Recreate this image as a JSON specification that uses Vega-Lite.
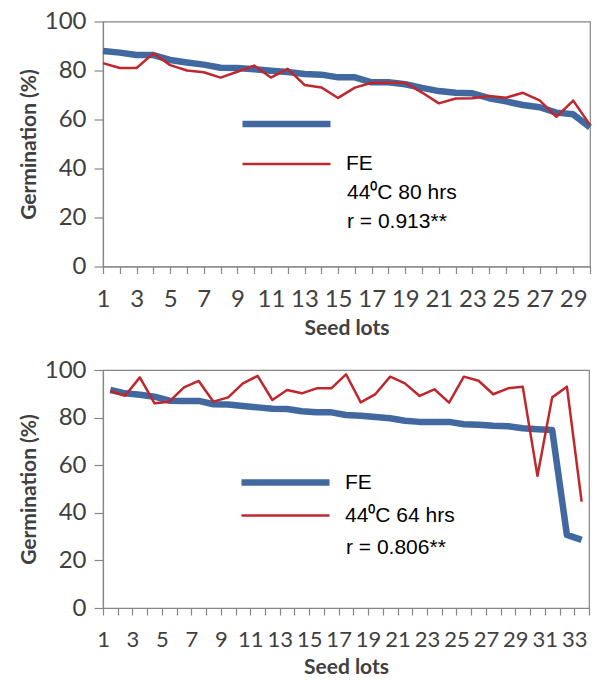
{
  "$schema": "https://vega.github.io/schema/vega-lite/v6.json",
  "autosize": {"type": "pad"},
  "padding": {"left": 17, "top": 8.5, "right": 0, "bottom": 0},
  "background": "white",
  "bounds": "flush",
  "spacing": 103.5,
  "config": {
    "view": {"stroke": "#868686", "strokeWidth": 1.2},
    "axis": {
      "grid": false,
      "domainColor": "#868686",
      "tickColor": "#868686",
      "domainWidth": 1.2,
      "tickWidth": 1.2,
      "labelFont": "Lato",
      "labelFontSize": 24,
      "labelColor": "#404040",
      "titleFont": "Lato",
      "titleFontWeight": "bold",
      "titleFontSize": 21,
      "titleColor": "#404040"
    },
    "legend": {
      "labelFont": "Liberation Sans",
      "labelFontSize": 21,
      "labelColor": "black"
    }
  },
  "vconcat": [
    {
      "width": 487,
      "height": 245,
      "data": {"values": [
        {"lot": 1, "series": "FE", "germ": 88.0}, {"lot": 2, "series": "FE", "germ": 87.3}, {"lot": 3, "series": "FE", "germ": 86.3},
        {"lot": 4, "series": "FE", "germ": 86.3}, {"lot": 5, "series": "FE", "germ": 84.3}, {"lot": 6, "series": "FE", "germ": 83.3},
        {"lot": 7, "series": "FE", "germ": 82.4}, {"lot": 8, "series": "FE", "germ": 81.1}, {"lot": 9, "series": "FE", "germ": 81.0},
        {"lot": 10, "series": "FE", "germ": 80.5}, {"lot": 11, "series": "FE", "germ": 79.9}, {"lot": 12, "series": "FE", "germ": 79.4},
        {"lot": 13, "series": "FE", "germ": 78.6}, {"lot": 14, "series": "FE", "germ": 78.3}, {"lot": 15, "series": "FE", "germ": 77.2},
        {"lot": 16, "series": "FE", "germ": 77.2}, {"lot": 17, "series": "FE", "germ": 75.2}, {"lot": 18, "series": "FE", "germ": 75.2},
        {"lot": 19, "series": "FE", "germ": 74.4}, {"lot": 20, "series": "FE", "germ": 72.9}, {"lot": 21, "series": "FE", "germ": 71.6},
        {"lot": 22, "series": "FE", "germ": 70.9}, {"lot": 23, "series": "FE", "germ": 70.7}, {"lot": 24, "series": "FE", "germ": 68.7},
        {"lot": 25, "series": "FE", "germ": 67.4}, {"lot": 26, "series": "FE", "germ": 65.9}, {"lot": 27, "series": "FE", "germ": 65.0},
        {"lot": 28, "series": "FE", "germ": 62.8}, {"lot": 29, "series": "FE", "germ": 62.1}, {"lot": 30, "series": "FE", "germ": 56.8},
        {"lot": 1, "series": "44⁰C 80 hrs", "germ": 83.0}, {"lot": 2, "series": "44⁰C 80 hrs", "germ": 81.0}, {"lot": 3, "series": "44⁰C 80 hrs", "germ": 81.0},
        {"lot": 4, "series": "44⁰C 80 hrs", "germ": 87.0}, {"lot": 5, "series": "44⁰C 80 hrs", "germ": 82.2}, {"lot": 6, "series": "44⁰C 80 hrs", "germ": 80.0},
        {"lot": 7, "series": "44⁰C 80 hrs", "germ": 79.3}, {"lot": 8, "series": "44⁰C 80 hrs", "germ": 77.1}, {"lot": 9, "series": "44⁰C 80 hrs", "germ": 79.5},
        {"lot": 10, "series": "44⁰C 80 hrs", "germ": 82.0}, {"lot": 11, "series": "44⁰C 80 hrs", "germ": 77.1}, {"lot": 12, "series": "44⁰C 80 hrs", "germ": 80.7},
        {"lot": 13, "series": "44⁰C 80 hrs", "germ": 74.1}, {"lot": 14, "series": "44⁰C 80 hrs", "germ": 73.1}, {"lot": 15, "series": "44⁰C 80 hrs", "germ": 68.8},
        {"lot": 16, "series": "44⁰C 80 hrs", "germ": 73.0}, {"lot": 17, "series": "44⁰C 80 hrs", "germ": 75.0}, {"lot": 18, "series": "44⁰C 80 hrs", "germ": 75.0},
        {"lot": 19, "series": "44⁰C 80 hrs", "germ": 75.0}, {"lot": 20, "series": "44⁰C 80 hrs", "germ": 71.0}, {"lot": 21, "series": "44⁰C 80 hrs", "germ": 66.6},
        {"lot": 22, "series": "44⁰C 80 hrs", "germ": 68.6}, {"lot": 23, "series": "44⁰C 80 hrs", "germ": 68.7}, {"lot": 24, "series": "44⁰C 80 hrs", "germ": 69.6},
        {"lot": 25, "series": "44⁰C 80 hrs", "germ": 68.9}, {"lot": 26, "series": "44⁰C 80 hrs", "germ": 70.9}, {"lot": 27, "series": "44⁰C 80 hrs", "germ": 67.8},
        {"lot": 28, "series": "44⁰C 80 hrs", "germ": 61.1}, {"lot": 29, "series": "44⁰C 80 hrs", "germ": 67.7}, {"lot": 30, "series": "44⁰C 80 hrs", "germ": 57.8}
      ]},
      "encoding": {
        "x": {
          "field": "lot", "type": "quantitative",
          "scale": {"domain": [1, 30], "nice": false, "zero": false},
          "axis": {
            "title": "Seed lots",
            "values": [1,2,3,4,5,6,7,8,9,10,11,12,13,14,15,16,17,18,19,20,21,22,23,24,25,26,27,28,29,30],
            "labelExpr": "datum.value % 2 == 1 ? datum.label : ''",
            "labelOverlap": false, "labelFlush": false,
            "tickSize": 7, "labelPadding": 14, "titlePadding": 6
          }
        },
        "y": {
          "field": "germ", "type": "quantitative",
          "scale": {"domain": [0, 100], "nice": false},
          "axis": {"title": "Germination (%)", "values": [0,20,40,60,80,100], "tickSize": 9, "labelPadding": 8, "titlePadding": 5}
        }
      },
      "layer": [
        {
          "transform": [{"filter": "datum.series == 'FE'"}],
          "mark": {"type": "line", "strokeWidth": 6.5, "strokeJoin": "round", "strokeCap": "butt"},
          "encoding": {
            "color": {
              "field": "series", "type": "nominal",
              "scale": {"domain": ["FE", "44⁰C 80 hrs"], "range": ["#41689F", "#C0272D"]},
              "legend": {
                "orient": "none", "legendX": 173, "legendY": 92, "title": null, "padding": 0,
                "symbolType": "M-4,0H4", "symbolSize": 484, "labelOffset": 49, "rowPadding": 15,
                "labelExpr": "datum.value == 'FE' ? '' : 'FE'",
                "encode": {"symbols": {"update": {"strokeWidth": {"signal": "datum.value == 'FE' ? 6.5 : 2.5"}}}}
              }
            }
          }
        },
        {
          "transform": [{"filter": "datum.series != 'FE'"}],
          "mark": {"type": "line", "strokeWidth": 2.5, "strokeJoin": "round"},
          "encoding": {"color": {"field": "series", "type": "nominal"}}
        },
        {
          "transform": [{"filter": "datum.series == 'FE' && datum.lot == 1"}],
          "mark": {"type": "text", "align": "left", "baseline": "middle", "font": "Liberation Sans", "fontSize": 21, "fill": "black"},
          "encoding": {"x": {"datum": 15.53, "type": "quantitative"}, "y": {"datum": 30.0, "type": "quantitative"}, "text": {"value": "44⁰C 80 hrs"}}
        },
        {
          "transform": [{"filter": "datum.series == 'FE' && datum.lot == 1"}],
          "mark": {"type": "text", "align": "left", "baseline": "middle", "font": "Liberation Sans", "fontSize": 21, "fill": "black"},
          "encoding": {"x": {"datum": 15.53, "type": "quantitative"}, "y": {"datum": 18.2, "type": "quantitative"}, "text": {"value": "r = 0.913**"}}
        }
      ]
    },
    {
      "width": 486,
      "height": 238,
      "data": {"values": [
        {"lot": 1, "series": "FE", "germ": 91.6}, {"lot": 2, "series": "FE", "germ": 90.2}, {"lot": 3, "series": "FE", "germ": 89.6},
        {"lot": 4, "series": "FE", "germ": 88.8}, {"lot": 5, "series": "FE", "germ": 87.1}, {"lot": 6, "series": "FE", "germ": 87.0},
        {"lot": 7, "series": "FE", "germ": 87.0}, {"lot": 8, "series": "FE", "germ": 85.6}, {"lot": 9, "series": "FE", "germ": 85.5},
        {"lot": 10, "series": "FE", "germ": 84.9}, {"lot": 11, "series": "FE", "germ": 84.3}, {"lot": 12, "series": "FE", "germ": 83.7},
        {"lot": 13, "series": "FE", "germ": 83.6}, {"lot": 14, "series": "FE", "germ": 82.7}, {"lot": 15, "series": "FE", "germ": 82.2},
        {"lot": 16, "series": "FE", "germ": 82.2}, {"lot": 17, "series": "FE", "germ": 81.1}, {"lot": 18, "series": "FE", "germ": 80.8},
        {"lot": 19, "series": "FE", "germ": 80.3}, {"lot": 20, "series": "FE", "germ": 79.7}, {"lot": 21, "series": "FE", "germ": 78.7},
        {"lot": 22, "series": "FE", "germ": 78.2}, {"lot": 23, "series": "FE", "germ": 78.2}, {"lot": 24, "series": "FE", "germ": 78.2},
        {"lot": 25, "series": "FE", "germ": 77.2}, {"lot": 26, "series": "FE", "germ": 77.0}, {"lot": 27, "series": "FE", "germ": 76.6},
        {"lot": 28, "series": "FE", "germ": 76.4}, {"lot": 29, "series": "FE", "germ": 75.5}, {"lot": 30, "series": "FE", "germ": 75.1},
        {"lot": 31, "series": "FE", "germ": 74.8}, {"lot": 32, "series": "FE", "germ": 30.7}, {"lot": 33, "series": "FE", "germ": 28.6},
        {"lot": 1, "series": "44⁰C 64 hrs", "germ": 91.3}, {"lot": 2, "series": "44⁰C 64 hrs", "germ": 89.2}, {"lot": 3, "series": "44⁰C 64 hrs", "germ": 96.9},
        {"lot": 4, "series": "44⁰C 64 hrs", "germ": 86.0}, {"lot": 5, "series": "44⁰C 64 hrs", "germ": 86.7}, {"lot": 6, "series": "44⁰C 64 hrs", "germ": 92.7},
        {"lot": 7, "series": "44⁰C 64 hrs", "germ": 95.4}, {"lot": 8, "series": "44⁰C 64 hrs", "germ": 86.7}, {"lot": 9, "series": "44⁰C 64 hrs", "germ": 88.5},
        {"lot": 10, "series": "44⁰C 64 hrs", "germ": 94.4}, {"lot": 11, "series": "44⁰C 64 hrs", "germ": 97.5}, {"lot": 12, "series": "44⁰C 64 hrs", "germ": 87.4},
        {"lot": 13, "series": "44⁰C 64 hrs", "germ": 91.6}, {"lot": 14, "series": "44⁰C 64 hrs", "germ": 90.2}, {"lot": 15, "series": "44⁰C 64 hrs", "germ": 92.3},
        {"lot": 16, "series": "44⁰C 64 hrs", "germ": 92.3}, {"lot": 17, "series": "44⁰C 64 hrs", "germ": 98.2}, {"lot": 18, "series": "44⁰C 64 hrs", "germ": 86.4},
        {"lot": 19, "series": "44⁰C 64 hrs", "germ": 89.9}, {"lot": 20, "series": "44⁰C 64 hrs", "germ": 97.2}, {"lot": 21, "series": "44⁰C 64 hrs", "germ": 94.4},
        {"lot": 22, "series": "44⁰C 64 hrs", "germ": 89.1}, {"lot": 23, "series": "44⁰C 64 hrs", "germ": 91.9}, {"lot": 24, "series": "44⁰C 64 hrs", "germ": 86.3},
        {"lot": 25, "series": "44⁰C 64 hrs", "germ": 97.2}, {"lot": 26, "series": "44⁰C 64 hrs", "germ": 95.5}, {"lot": 27, "series": "44⁰C 64 hrs", "germ": 89.8},
        {"lot": 28, "series": "44⁰C 64 hrs", "germ": 92.3}, {"lot": 29, "series": "44⁰C 64 hrs", "germ": 93.0}, {"lot": 30, "series": "44⁰C 64 hrs", "germ": 55.5},
        {"lot": 31, "series": "44⁰C 64 hrs", "germ": 88.5}, {"lot": 32, "series": "44⁰C 64 hrs", "germ": 93.0}, {"lot": 33, "series": "44⁰C 64 hrs", "germ": 44.7}
      ]},
      "encoding": {
        "x": {
          "field": "lot", "type": "quantitative",
          "scale": {"domain": [0.5, 33.5], "nice": false, "zero": false},
          "axis": {
            "title": "Seed lots",
            "values": [0.5,1.5,2.5,3.5,4.5,5.5,6.5,7.5,8.5,9.5,10.5,11.5,12.5,13.5,14.5,15.5,16.5,17.5,18.5,19.5,20.5,21.5,22.5,23.5,24.5,25.5,26.5,27.5,28.5,29.5,30.5,31.5,32.5,33.5],
            "labelExpr": "(datum.value - 0.5) % 2 == 0 ? format(datum.value + 0.5, 'd') : ''",
            "labelDx": 7.36,
            "labelFontSize": 22,
            "labelOverlap": false, "labelFlush": false,
            "tickSize": 7, "labelPadding": 14, "titlePadding": 6
          }
        },
        "y": {
          "field": "germ", "type": "quantitative",
          "scale": {"domain": [0, 100], "nice": false},
          "axis": {"title": "Germination (%)", "values": [0,20,40,60,80,100], "tickSize": 9, "labelPadding": 8, "titlePadding": 5}
        }
      },
      "layer": [
        {
          "transform": [{"filter": "datum.series == 'FE'"}],
          "mark": {"type": "line", "strokeWidth": 6.5, "strokeJoin": "round", "strokeCap": "butt"},
          "encoding": {
            "color": {
              "field": "series", "type": "nominal",
              "scale": {"domain": ["FE", "44⁰C 64 hrs"], "range": ["#41689F", "#C0272D"]},
              "legend": {
                "orient": "none", "legendX": 172, "legendY": 102, "title": null, "padding": 0,
                "symbolType": "M-4,0H4", "symbolSize": 484, "labelOffset": 49, "rowPadding": 8,
                "encode": {"symbols": {"update": {"strokeWidth": {"signal": "datum.value == 'FE' ? 6.5 : 2.5"}}}}
              }
            }
          }
        },
        {
          "transform": [{"filter": "datum.series != 'FE'"}],
          "mark": {"type": "line", "strokeWidth": 2.5, "strokeJoin": "round"},
          "encoding": {"color": {"field": "series", "type": "nominal"}}
        },
        {
          "transform": [{"filter": "datum.series == 'FE' && datum.lot == 1"}],
          "mark": {"type": "text", "align": "left", "baseline": "middle", "font": "Liberation Sans", "fontSize": 21, "fill": "black"},
          "encoding": {"x": {"datum": 17.0, "type": "quantitative"}, "y": {"datum": 25.2, "type": "quantitative"}, "text": {"value": "r = 0.806**"}}
        }
      ]
    }
  ],
  "resolve": {"scale": {"color": "independent"}, "legend": {"color": "independent"}}
}
